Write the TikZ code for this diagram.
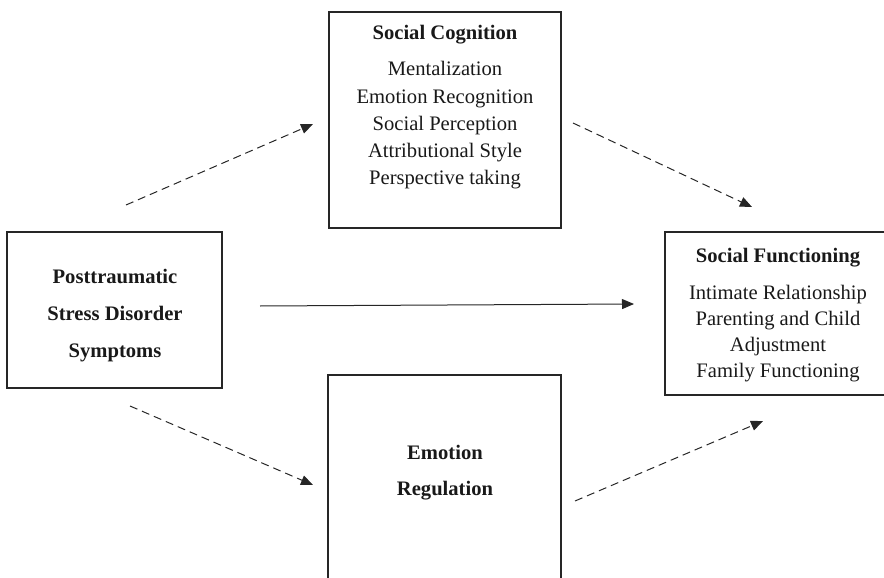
\documentclass[tikz,border=0pt]{standalone}
\usepackage{fontspec}
\setmainfont{Liberation Serif}
\usetikzlibrary{arrows.meta}
\begin{document}
\begin{tikzpicture}[x=1pt,y=-1pt,
  boxstyle/.style={draw=black!85, line width=1.2pt, rectangle, inner sep=0pt},
  txt/.style={anchor=base, inner sep=0pt, font=\fontsize{20.6}{25}\selectfont, text=black!90},
  ttl/.style={txt, font=\fontsize{20.6}{25}\selectfont\bfseries},
  conn/.style={line width=1pt, draw=black!85, -{Triangle[length=12pt,width=10pt]}},
  dashconn/.style={conn, dash pattern=on 8pt off 5pt}
]
\useasboundingbox (0,0) rectangle (884,578);
\clip (0,0) rectangle (884,578);
% boxes
\node[boxstyle, minimum width=232pt, minimum height=216pt] (sc) at (445,120) {};
\node[boxstyle, minimum width=215pt, minimum height=156pt] (ptsd) at (114.5,310) {};
\node[boxstyle, minimum width=233pt, minimum height=265pt] (er) at (444.5,507.5) {};
\node[boxstyle, minimum width=228pt, minimum height=163pt] (sf) at (779,313.5) {};
% Social Cognition text
\node[ttl] (sct) at (445,40) {Social Cognition};
\node[txt] (sc1) at (445,76) {Mentalization};
\node[txt] (sc2) at (445,103) {Emotion Recognition};
\node[txt] (sc3) at (445,130) {Social Perception};
\node[txt] (sc4) at (445,157) {Attributional Style};
\node[txt] (sc5) at (445,184) {Perspective taking};
% PTSD text
\node[ttl] (pt1) at (115,283) {Posttraumatic};
\node[ttl] (pt2) at (115,320) {Stress Disorder};
\node[ttl] (pt3) at (115,357) {Symptoms};
% Emotion Regulation text
\node[ttl] (er1) at (445,459) {Emotion};
\node[ttl] (er2) at (445,495) {Regulation};
% Social Functioning text
\node[ttl] (sft) at (778,262) {Social Functioning};
\node[txt] (sf1) at (778,299) {Intimate Relationship};
\node[txt] (sf2) at (778,325) {Parenting and Child};
\node[txt] (sf3) at (778,351) {Adjustment};
\node[txt] (sf4) at (778,377) {Family Functioning};
% arrow end points
\coordinate (a1s) at (126,205);
\coordinate (a1e) at (313,124);
\coordinate (a2s) at (573,123);
\coordinate (a2e) at (752,207);
\coordinate (a3s) at (260,306);
\coordinate (a3e) at (634,304);
\coordinate (a4s) at (130,406);
\coordinate (a4e) at (313,485);
\coordinate (a5s) at (575,501);
\coordinate (a5e) at (763,421);
\draw[dashconn] (a1s) -- (a1e);
\draw[dashconn] (a2s) -- (a2e);
\draw[conn] (a3s) -- (a3e);
\draw[dashconn] (a4s) -- (a4e);
\draw[dashconn] (a5s) -- (a5e);
\end{tikzpicture}
\end{document}
